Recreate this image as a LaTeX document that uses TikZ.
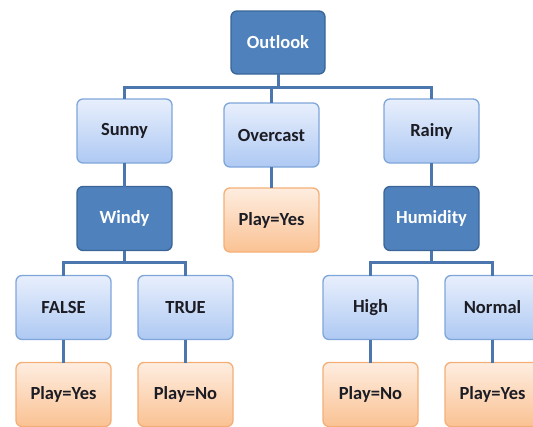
\documentclass[tikz,border=0pt]{standalone}
\usepackage{fontspec}
\setmainfont{Carlito}
\begin{document}
\begin{tikzpicture}[x=1pt,y=-1pt,
  box/.style={rounded corners=6pt, minimum width=95pt, minimum height=64pt,
    line width=1.3pt, outer sep=0pt, inner sep=2pt,
    font=\fontsize{18.5}{20}\selectfont\bfseries},
  attr/.style={box, draw=attrborder, fill=attrfill, text=white},
  val/.style={box, draw=valborder, top color=valtop, bottom color=valbot, text=textdark},
  leaf/.style={box, draw=leafborder, top color=leaftop, bottom color=leafbot, text=textdark},
  link/.style={draw=linkcol, line width=3pt}]
\definecolor{attrfill}{HTML}{4F81BD}
\definecolor{attrborder}{HTML}{3A6596}
\definecolor{valtop}{HTML}{E8EFFC}
\definecolor{valbot}{HTML}{AEC9F3}
\definecolor{valborder}{HTML}{7FA6DA}
\definecolor{leaftop}{HTML}{FEEDE0}
\definecolor{leafbot}{HTML}{FAC293}
\definecolor{leafborder}{HTML}{F4AF78}
\definecolor{textdark}{HTML}{1C1C24}
\definecolor{linkcol}{HTML}{4B77AE}
\useasboundingbox (0,0) rectangle (533,426);
\begin{scope}
\clip (0,0) rectangle (533,426);
% root
\node[attr, minimum width=94pt, minimum height=63pt] (outlook) at (278,42.5) {Outlook};
% first level values
\node[val] (sunny) at (124.5,131) {Sunny};
\node[val] (overcast) at (271.5,135) {Overcast};
\node[val] (rainy) at (431.5,131) {Rainy};
% second level
\node[attr] (windy) at (124.5,218.5) {Windy};
\node[leaf] (ovleaf) at (271.5,220) {Play=Yes};
\node[attr] (humidity) at (431.5,218.5) {Humidity};
% third level values
\node[val] (false) at (63.5,307.5) {FALSE};
\node[val] (true) at (185.5,307.5) {TRUE};
\node[val] (high) at (370.5,307.5) {High};
\node[val] (normal) at (492.5,307.5) {Normal};
% leaves
\node[leaf] (lfalse) at (63.5,394.5) {Play=Yes};
\node[leaf] (ltrue) at (185.5,394.5) {Play=No};
\node[leaf] (lhigh) at (370.5,394.5) {Play=No};
\node[leaf] (lnormal) at (492.5,394.5) {Play=Yes};
% connectors
\draw[link] (outlook.south) -- ++(0,13.5) coordinate (jtop);
\draw[link] (sunny.north) |- (jtop) -| (rainy.north);
\draw[link] (overcast.north) -- (overcast.north |- jtop);
\draw[link] (sunny.south) -- (windy.north);
\draw[link] (overcast.south) -- (ovleaf.north);
\draw[link] (rainy.south) -- (humidity.north);
\draw[link] (windy.south) -- ++(0,12) coordinate (jwindy);
\draw[link] (false.north) |- (jwindy) -| (true.north);
\draw[link] (humidity.south) -- ++(0,12) coordinate (jhum);
\draw[link] (high.north) |- (jhum) -| (normal.north);
\draw[link] (false.south) -- (lfalse.north);
\draw[link] (true.south) -- (ltrue.north);
\draw[link] (high.south) -- (lhigh.north);
\draw[link] (normal.south) -- (lnormal.north);
\end{scope}
\end{tikzpicture}
\end{document}
